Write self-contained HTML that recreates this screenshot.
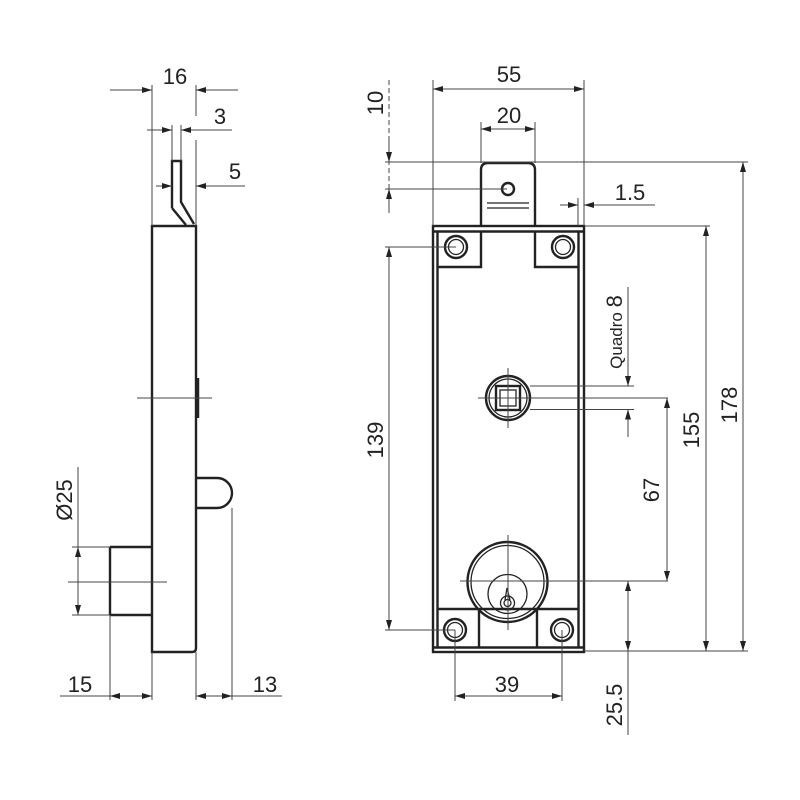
<!DOCTYPE html>
<html><head><meta charset="utf-8"><style>
html,body{margin:0;padding:0;background:#fff;width:800px;height:800px;overflow:hidden}
text{font-family:"Liberation Sans",Arial,sans-serif;fill:#222}
</style></head><body>
<svg width="800" height="800" viewBox="0 0 800 800" xmlns="http://www.w3.org/2000/svg">
<defs>
<marker id="a" viewBox="0 0 10 6" refX="10" refY="3" markerWidth="10" markerHeight="6" markerUnits="userSpaceOnUse" orient="auto-start-reverse">
<path d="M0,0 L10,3 L0,6 z" fill="#222"/></marker>
</defs>
<g fill="none" stroke="#222">
<!-- ===== SIDE VIEW ===== -->
<g stroke-width="2.4">
<path d="M152,226 L196,226 L196,648 Q196,652 192,652 L152,652 Z"/>
<path d="M172,208 L172,161 L181,161 L181,202 L194,224"/>
<path d="M172,208 L186,225"/>
<path d="M110,547 L152,547 M110,615 L152,615 M110,547 L110,615"/>
<path d="M196,478 L217,478 A15,15 0 0 1 217,508 L196,508"/>
</g>
<line x1="197.5" y1="378" x2="197.5" y2="418" stroke-width="3.5"/>
<g stroke-width="1" stroke="#444">
<line x1="137" y1="398" x2="212" y2="398"/>
<line x1="68" y1="582" x2="167" y2="582"/>
<line x1="152" y1="85" x2="152" y2="226"/>
<line x1="196" y1="85" x2="196" y2="116"/><line x1="196" y1="140" x2="196" y2="226"/>
<line x1="110" y1="90" x2="152" y2="90" marker-end="url(#a)"/>
<line x1="238" y1="90" x2="196" y2="90" marker-end="url(#a)"/>
<line x1="172" y1="125" x2="172" y2="161"/><line x1="181" y1="125" x2="181" y2="161"/>
<line x1="147" y1="130" x2="172" y2="130" marker-end="url(#a)"/>
<line x1="232" y1="130" x2="181" y2="130" marker-end="url(#a)"/>
<line x1="156" y1="186" x2="172" y2="186" marker-end="url(#a)"/>
<line x1="245" y1="186" x2="196" y2="186" marker-end="url(#a)"/>
<line x1="78" y1="467" x2="78" y2="547"/>
<line x1="78" y1="547" x2="78" y2="615" marker-start="url(#a)" marker-end="url(#a)"/>
<line x1="72" y1="547" x2="110" y2="547"/><line x1="72" y1="615" x2="110" y2="615"/>
<line x1="110" y1="615" x2="110" y2="700"/><line x1="152" y1="652" x2="152" y2="700"/>
<line x1="196" y1="652" x2="196" y2="700"/><line x1="232" y1="508" x2="232" y2="700"/>
<line x1="60" y1="696" x2="110" y2="696"/>
<line x1="110" y1="696" x2="152" y2="696" marker-start="url(#a)" marker-end="url(#a)"/>
<line x1="196" y1="696" x2="232" y2="696" marker-start="url(#a)" marker-end="url(#a)"/>
<line x1="232" y1="696" x2="282" y2="696"/>
</g>
<!-- ===== FRONT VIEW ===== -->
<g stroke-width="2.4">
<rect x="433" y="226" width="151" height="426"/>
<line x1="437.5" y1="231" x2="437.5" y2="647"/>
<line x1="578.5" y1="231" x2="578.5" y2="647"/>
<line x1="433" y1="231.5" x2="584" y2="231.5"/>
<line x1="433" y1="647.5" x2="584" y2="647.5"/>
<path d="M481,226 L481,170 Q481,163 488,163 L528,163 Q535,163 535,170 L535,226"/>
<path d="M481,232 L481,267 L437,267 M535,232 L535,267 L579,267"/>
<path d="M437,609 L579,609 M479,609 L479,647 M537,609 L537,647"/>
<circle cx="508" cy="189" r="6"/>
<circle cx="456" cy="247" r="11"/><circle cx="563" cy="247" r="11"/>
<circle cx="455" cy="630" r="11"/><circle cx="562" cy="630" r="11"/>
<circle cx="508" cy="398" r="22"/>
<rect x="496" y="386" width="24" height="24"/>
<circle cx="507.5" cy="582" r="40"/>
</g>
<g stroke-width="1.3">
<line x1="487" y1="203" x2="529" y2="203"/><line x1="487" y1="208" x2="529" y2="208"/>
<circle cx="456" cy="247" r="7.5"/><circle cx="563" cy="247" r="7.5"/>
<circle cx="455" cy="630" r="7.5"/><circle cx="562" cy="630" r="7.5"/>
<circle cx="508" cy="398" r="19"/>
<rect x="500" y="390" width="16" height="16"/>
<circle cx="507.5" cy="582" r="36.5"/>
<circle cx="507.5" cy="594" r="19.5"/>
<circle cx="507.5" cy="603" r="7"/><circle cx="507.5" cy="603" r="3.5"/>
<path d="M505,600 L507,588 L510,600"/>
</g>
<g stroke-width="1" stroke="#444">
<line x1="508" y1="368" x2="508" y2="428"/><line x1="478" y1="398" x2="668" y2="398"/>
<line x1="530" y1="386" x2="634" y2="386"/><line x1="530" y1="409.5" x2="634" y2="409.5"/>
<line x1="508" y1="535" x2="508" y2="630"/><line x1="460" y1="581" x2="668" y2="581"/>
<line x1="433" y1="80" x2="433" y2="226"/><line x1="584" y1="80" x2="584" y2="226"/>
<line x1="433" y1="89" x2="584" y2="89" marker-start="url(#a)" marker-end="url(#a)"/>
<line x1="481" y1="122" x2="481" y2="163"/><line x1="535" y1="122" x2="535" y2="163"/>
<line x1="481" y1="129" x2="535" y2="129" marker-start="url(#a)" marker-end="url(#a)"/>
<line x1="389" y1="80" x2="389" y2="215" stroke-dasharray="5 3"/>
<line x1="389" y1="140" x2="389" y2="162" marker-end="url(#a)"/>
<line x1="389" y1="212" x2="389" y2="189" marker-end="url(#a)"/>
<line x1="385" y1="162" x2="748" y2="162"/><line x1="385" y1="189" x2="507" y2="189"/>
<line x1="560" y1="205" x2="578" y2="205" marker-end="url(#a)"/>
<line x1="655" y1="205" x2="584" y2="205" marker-end="url(#a)"/>
<line x1="578" y1="198" x2="578" y2="226"/>
<line x1="385" y1="247" x2="456" y2="247"/><line x1="385" y1="630" x2="455" y2="630"/>
<line x1="389" y1="247" x2="389" y2="630" marker-start="url(#a)" marker-end="url(#a)"/>
<line x1="584" y1="226" x2="710" y2="226"/><line x1="584" y1="651" x2="748" y2="651"/>
<line x1="706" y1="226" x2="706" y2="651" marker-start="url(#a)" marker-end="url(#a)"/>
<line x1="743" y1="162" x2="743" y2="651" marker-start="url(#a)" marker-end="url(#a)"/>
<line x1="628" y1="287" x2="628" y2="386" marker-end="url(#a)"/>
<line x1="628" y1="437" x2="628" y2="409.5" marker-end="url(#a)"/>
<line x1="667" y1="398" x2="667" y2="581" marker-start="url(#a)" marker-end="url(#a)"/>
<line x1="628" y1="581" x2="628" y2="651" marker-start="url(#a)" marker-end="url(#a)"/>
<line x1="628" y1="651" x2="628" y2="735"/>
<line x1="455" y1="630" x2="455" y2="701"/><line x1="562" y1="630" x2="562" y2="701"/>
<line x1="455" y1="696" x2="562" y2="696" marker-start="url(#a)" marker-end="url(#a)"/>
</g>
</g>
<g font-size="22">
<text x="175" y="84" text-anchor="middle">16</text>
<text x="220" y="124" text-anchor="middle">3</text>
<text x="235" y="179" text-anchor="middle">5</text>
<text x="80" y="692" text-anchor="middle">15</text>
<text x="265" y="692" text-anchor="middle">13</text>
<text transform="translate(72,500) rotate(-90)" text-anchor="middle">Ø25</text>
<text x="509" y="82" text-anchor="middle">55</text>
<text x="509" y="123" text-anchor="middle">20</text>
<text x="630" y="200" text-anchor="middle">1.5</text>
<text x="507" y="692" text-anchor="middle">39</text>
<text transform="translate(383,103) rotate(-90)" text-anchor="middle">10</text>
<text transform="translate(383,440) rotate(-90)" text-anchor="middle">139</text>
<text transform="translate(659,490) rotate(-90)" text-anchor="middle">67</text>
<text transform="translate(699,430) rotate(-90)" text-anchor="middle">155</text>
<text transform="translate(737,405) rotate(-90)" text-anchor="middle">178</text>
<text transform="translate(622,705) rotate(-90)" text-anchor="middle">25.5</text>
<text transform="translate(622,332) rotate(-90)" text-anchor="middle"><tspan font-size="17">Quadro </tspan><tspan font-size="22">8</tspan></text>
</g>
</svg>
</body></html>
